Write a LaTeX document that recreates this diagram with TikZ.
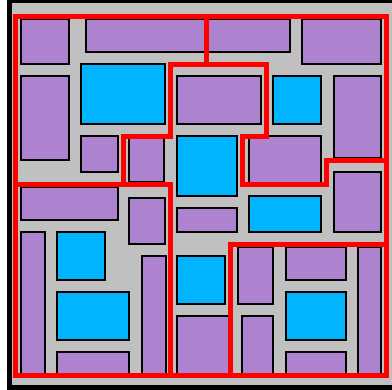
\documentclass[tikz,border=0pt]{standalone}
\definecolor{bggray}{RGB}{192,192,192}
\definecolor{lilac}{RGB}{173,131,208}
\definecolor{skyc}{RGB}{0,180,255}
\definecolor{redl}{RGB}{255,0,0}
\tikzset{
  pbox/.style={fill=lilac,draw=black,line width=1.3pt},
  cbox/.style={fill=skyc,draw=black,line width=1.3pt},
  redline/.style={draw=redl,line width=5pt,line join=miter,line cap=rect},
}
\begin{document}
\begin{tikzpicture}[x=1pt,y=-1pt]
\useasboundingbox (0,0) rectangle (392,390);
% frame and background
\fill[black] (7,0) rectangle (392,390);
\fill[bggray] (12,3) rectangle (392,385);
% purple rooms
\foreach \a/\b/\c/\d in {21/19/69/64, 86/19/290/52, 302/19/381/64, 21/76/69/160,
  177/76/261/124, 334/76/381/158, 81/136/118/172, 129/138/164/182, 249/136/321/183,
  334/172/381/232, 21/187/118/220, 129/198/165/244, 21/232/45/375, 57/352/129/375,
  142/256/166/375, 177/208/237/232, 177/316/229/375, 238/247/273/304, 286/247/346/280,
  286/352/346/375, 242/316/273/375, 358/247/381/375}
  \path[pbox] (\a,\b) rectangle (\c,\d);
% cyan rooms
\foreach \a/\b/\c/\d in {81/64/165/124, 273/76/321/124, 177/136/237/196, 249/196/321/232,
  57/232/105/280, 57/292/129/340, 177/256/225/304, 286/292/346/340}
  \path[cbox] (\a,\b) rectangle (\c,\d);
% red partition lines
\coordinate (tl) at (15.5,16.5);
\coordinate (br) at (386.5,375.5);
\draw[redline] (tl) rectangle (br);
\draw[redline] (206.5,16.5) -- (206.5,64.5) -- (266.5,64.5) -- (266.5,136.5) -- (242.5,136.5)
  -- (242.5,184.5) -- (326.5,184.5) -- (326.5,160.5) -- (386.5,160.5);
\draw[redline] (206.5,64.5) -- (170.5,64.5) -- (170.5,136.5) -- (123.5,136.5)
  -- (123.5,184.5) -- (15.5,184.5);
\draw[redline] (123.5,184.5) -- (170.5,184.5) -- (170.5,375.5);
\draw[redline] (386.5,244.5) -- (230.5,244.5) -- (230.5,375.5);
\end{tikzpicture}
\end{document}
